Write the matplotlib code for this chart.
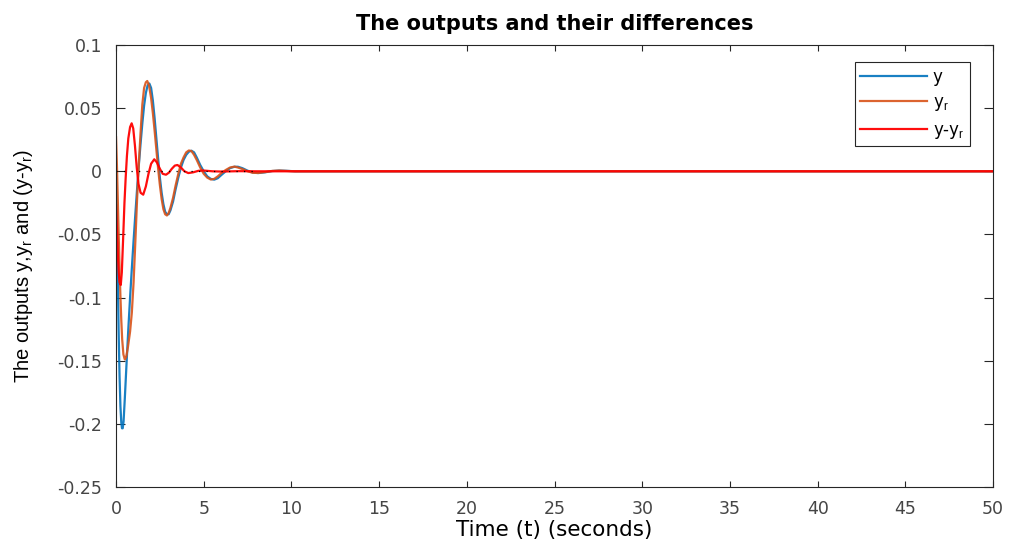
import matplotlib
matplotlib.use("Agg")
import matplotlib.pyplot as plt

# ---- data -------------------------------------------------------------
# system output y
t_y = [0.00, 0.05, 0.10, 0.15, 0.20, 0.25, 0.30, 0.34, 0.38, 0.43, 0.50,
       0.60, 0.70, 0.80, 0.90, 1.00, 1.10, 1.20, 1.30, 1.40, 1.50,
       1.60, 1.70, 1.80, 1.90, 2.00, 2.10, 2.20, 2.30, 2.40, 2.50,
       2.60, 2.70, 2.80, 2.90, 3.00, 3.10, 3.25, 3.40, 3.55, 3.70,
       3.85, 4.00, 4.15, 4.30, 4.45, 4.60, 4.80, 5.00, 5.20, 5.40,
       5.60, 5.80, 6.00, 6.25, 6.50, 6.75, 6.95, 7.20, 7.50, 7.80,
       8.10, 8.50, 8.90, 9.30, 9.70, 10.2, 11.0, 50.0]
y = [0.000, -0.040, -0.085, -0.128, -0.162, -0.186, -0.199, -0.2035, -0.2035, -0.198, -0.180,
     -0.152, -0.125, -0.100, -0.077, -0.055, -0.034, -0.014, 0.005, 0.022, 0.038,
     0.052, 0.062, 0.068, 0.0695, 0.066, 0.056, 0.042, 0.026, 0.010, -0.005,
     -0.017, -0.026, -0.032, -0.034, -0.034, -0.031, -0.024, -0.014, -0.005, 0.003,
     0.009, 0.013, 0.0155, 0.0163, 0.015, 0.011, 0.005, 0.000, -0.004, -0.006,
     -0.0066, -0.0055, -0.003, 0.000, 0.0025, 0.0036, 0.0036, 0.0025, 0.0005, -0.001,
     -0.0014, -0.0008, 0.0002, 0.0006, 0.0004, 0.0, 0.0, 0.0]

# reference output y_r
t_yr = [0.00, 0.05, 0.10, 0.15, 0.20, 0.25, 0.30, 0.35, 0.42, 0.50,
        0.58, 0.68, 0.80, 0.90, 1.00, 1.10, 1.20, 1.30, 1.40, 1.50,
        1.60, 1.70, 1.78, 1.88, 2.00, 2.10, 2.20, 2.30, 2.40, 2.50,
        2.60, 2.70, 2.80, 2.90, 3.00, 3.10, 3.25, 3.40, 3.55, 3.70,
        3.85, 4.00, 4.15, 4.30, 4.45, 4.60, 4.80, 5.00, 5.20, 5.40,
        5.60, 5.80, 6.00, 6.25, 6.50, 6.75, 6.95, 7.20, 7.50, 7.80,
        8.10, 8.50, 8.90, 9.30, 9.70, 10.2, 11.0, 50.0]
yr = [0.027, 0.005, -0.022, -0.050, -0.076, -0.099, -0.118, -0.133, -0.145, -0.149,
      -0.147, -0.139, -0.127, -0.112, -0.088, -0.056, -0.022, 0.006, 0.031, 0.053,
      0.066, 0.0705, 0.0715, 0.068, 0.058, 0.046, 0.032, 0.017, 0.002, -0.011,
      -0.022, -0.030, -0.034, -0.035, -0.033, -0.029, -0.021, -0.011, -0.002, 0.006,
      0.011, 0.015, 0.0165, 0.016, 0.013, 0.009, 0.003, -0.002, -0.005, -0.0065,
      -0.006, -0.004, -0.0015, 0.001, 0.003, 0.0037, 0.003, 0.0018, 0.000, -0.0012,
      -0.0013, -0.0006, 0.0003, 0.0006, 0.0003, 0.0, 0.0, 0.0]

# difference y - y_r
t_diff = [0.00, 0.05, 0.10, 0.15, 0.20, 0.27, 0.33, 0.40, 0.48, 0.55,
          0.62, 0.70, 0.80, 0.89, 0.98, 1.08, 1.18, 1.28, 1.40, 1.55,
          1.70, 1.85, 2.00, 2.18, 2.33, 2.50, 2.66, 2.85, 3.02, 3.18,
          3.35, 3.50, 3.70, 3.90, 4.12, 4.40, 4.70, 5.00, 5.50, 6.00,
          7.00, 8.00, 50.0]
diff = [-0.027, -0.045, -0.065, -0.080, -0.088, -0.090, -0.080, -0.055, -0.025, -0.005,
        0.012, 0.026, 0.035, 0.038, 0.034, 0.020, 0.003, -0.010, -0.017, -0.0185,
        -0.012, -0.002, 0.006, 0.0095, 0.007, 0.002, -0.002, -0.0027, -0.001, 0.002,
        0.0045, 0.005, 0.003, 0.000, -0.0014, -0.0008, 0.0004, 0.0006, 0.0, -0.0002,
        0.0001, 0.0, 0.0]

# dotted zero reference
t_zero = [0.0, 8.0]
zero = [0.0, 0.0]

x_ticks = [0, 5, 10, 15, 20, 25, 30, 35, 40, 45, 50]
y_ticks = [-0.25, -0.2, -0.15, -0.1, -0.05, 0, 0.05, 0.1]
y_tick_labels = ["-0.25", "-0.2", "-0.15", "-0.1", "-0.05", "0", "0.05", "0.1"]

# ---- styling ----------------------------------------------------------
plt.rcParams["font.family"] = ["DejaVu Sans"]
plt.rcParams["mathtext.fontset"] = "custom"
plt.rcParams["mathtext.rm"] = "Liberation Sans"

c_y = "#0072BD"
c_yr = "#D95319"
c_diff = "#FF0000"
axis_col = "#262626"

fig = plt.figure(figsize=(10.09, 5.45), dpi=100)
ax = fig.add_axes([0.1150, 0.1064, 0.8692, 0.8110])

ax.plot(t_y, y, color=c_y, lw=1.6, label="y", alpha=0.9)
ax.plot(t_yr, yr, color=c_yr, lw=1.6, label="y$_\\mathrm{r}$", alpha=0.9)
ax.plot(t_diff, diff, color=c_diff, lw=1.6, label="y-y$_\\mathrm{r}$", alpha=0.95)
ax.plot(t_zero, zero, color="black", lw=0.9, linestyle=(0, (1, 5)))

ax.set_xlim(0, 50)
ax.set_ylim(-0.25, 0.1)
ax.set_xticks(x_ticks)
ax.set_yticks(y_ticks)
ax.set_yticklabels(y_tick_labels)

for s in ax.spines.values():
    s.set_color(axis_col)
    s.set_linewidth(0.8)

ax.tick_params(axis="x", direction="in", length=4.5, width=0.8, top=True,
               colors=axis_col, labelsize=12.5, pad=9)
ax.tick_params(axis="y", direction="in", length=6.5, width=0.8, right=True,
               colors=axis_col, labelsize=12.5, pad=10)
for lbl in ax.get_xticklabels() + ax.get_yticklabels():
    lbl.set_color("#454545")

ax.set_title("The outputs and their differences", fontsize=15,
             fontweight="bold", pad=11)
ax.set_xlabel("Time (t) (seconds)", fontsize=15.5, labelpad=2)
ax.set_ylabel("The outputs y,y$_\\mathrm{r}$ and (y-y$_\\mathrm{r}$)",
              fontsize=14.5, labelpad=16, family="Liberation Sans")

leg = ax.legend(loc="upper right", bbox_to_anchor=(0.974, 0.962),
                fontsize=12, handlelength=4.0, handletextpad=0.35,
                labelspacing=0.45, borderpad=0.35, fancybox=False,
                framealpha=1, edgecolor=axis_col, borderaxespad=0)
leg.get_frame().set_linewidth(0.8)

fig.savefig("out.png", dpi=100)
